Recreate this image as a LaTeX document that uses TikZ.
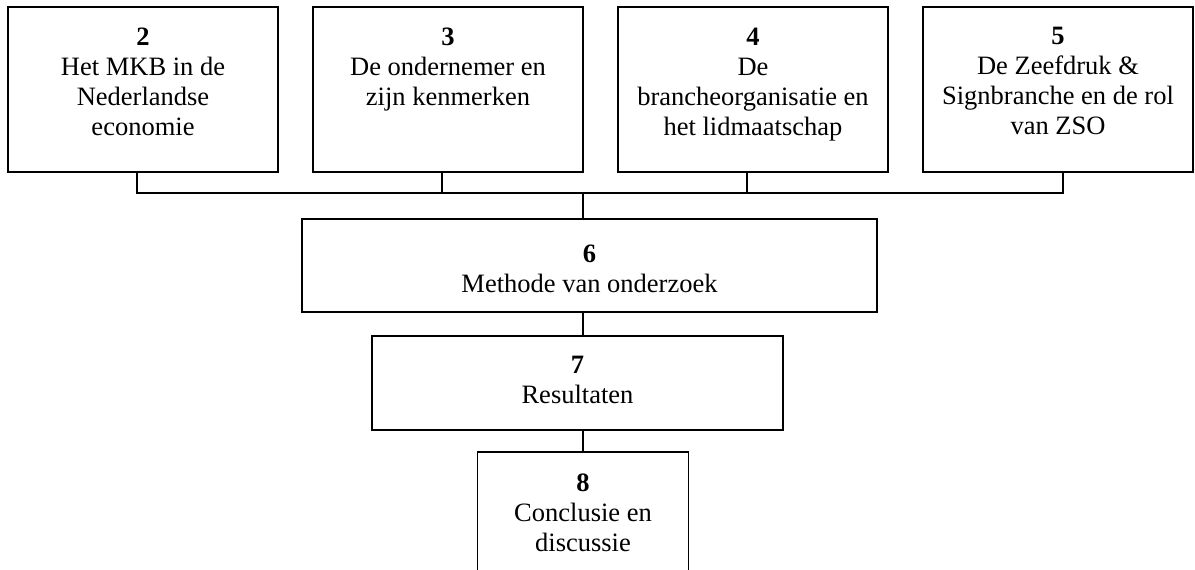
\documentclass[tikz,border=0pt]{standalone}
\usepackage{fontspec}
\setmainfont{Liberation Serif}
\usetikzlibrary{calc}
\begin{document}
\begin{tikzpicture}[x=1pt,y=-1pt,
  box/.style={draw=black, line width=1.3pt, rectangle, inner sep=0pt, outer sep=0pt},
  lbl/.style={anchor=north, align=center, inner sep=0pt, font=\fontsize{26.5}{30}\selectfont},
  link/.style={draw=black, line width=1.3pt}]
  \clip (0,0) rectangle (1195,570);
  \fill[white] (0,0) rectangle (1195,570);

  % chapter boxes, top row
  \node[box, minimum width=270pt, minimum height=165pt] (b2) at (143,89.5) {};
  \node[box, minimum width=270pt, minimum height=165pt] (b3) at (448,89.5) {};
  \node[box, minimum width=270pt, minimum height=165pt] (b4) at (753,89.5) {};
  \node[box, minimum width=270pt, minimum height=165pt] (b5) at (1058,89.5) {};

  % lower chain
  \node[box, minimum width=575pt, minimum height=93pt] (b6) at (589.5,265.5) {};
  \node[box, minimum width=411pt, minimum height=94pt] (b7) at (577.5,383) {};
  \node[box, minimum width=211pt, minimum height=160pt] (b8) at (583,532) {};

  % box texts
  \node[lbl] (t2) at ($(b2.north)+(0,21)$) {\textbf{2}\\Het MKB in de\\Nederlandse\\economie};
  \node[lbl] (t3) at ($(b3.north)+(0,21)$) {\textbf{3}\\De ondernemer en\\zijn kenmerken};
  \node[lbl] (t4) at ($(b4.north)+(0,21)$) {\textbf{4}\\De\\brancheorganisatie en\\het lidmaatschap};
  \node[lbl] (t5) at ($(b5.north)+(0,20)$) {\textbf{5}\\De Zeefdruk \&\\Signbranche en de rol\\van ZSO};
  \node[lbl] (t6) at ($(b6.north)+(0,26)$) {\textbf{6}\\Methode van onderzoek};
  \node[lbl] (t7) at ($(b7.north)+(0,20)$) {\textbf{7}\\Resultaten};
  \node[lbl] (t8) at ($(b8.north)+(0,22)$) {\textbf{8}\\Conclusie en\\discussie};

  % connecting bus under the top row
  \coordinate (bus) at (0,193);
  \coordinate (spine) at (583,0);
  \draw[link] ([xshift=-6pt]b2.south) -- ([xshift=-6pt]b2.south |- bus)
              -- ([xshift=5pt]b5.south |- bus) -- ([xshift=5pt]b5.south);
  \draw[link] ([xshift=-6pt]b3.south) -- ([xshift=-6pt]b3.south |- bus);
  \draw[link] ([xshift=-6pt]b4.south) -- ([xshift=-6pt]b4.south |- bus);
  \draw[link] (spine |- bus) -- (spine |- b6.north);
  \draw[link] (spine |- b6.south) -- (spine |- b7.north);
  \draw[link] (spine |- b7.south) -- (b8.north);
\end{tikzpicture}
\end{document}
